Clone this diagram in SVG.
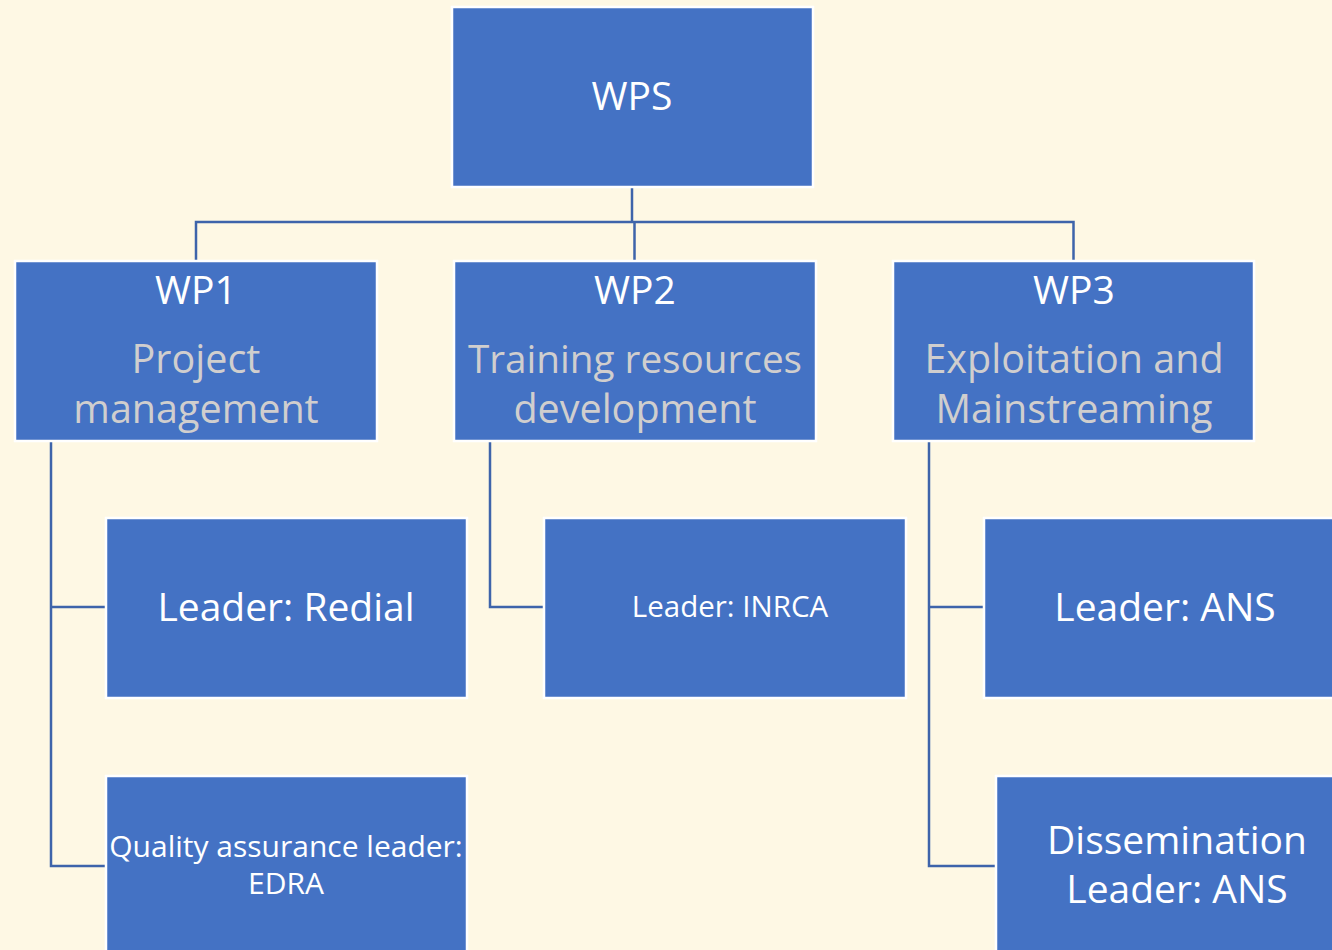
<svg xmlns="http://www.w3.org/2000/svg" width="1332" height="950" viewBox="0 0 1332 950">
<style>
.box{fill:#4472C4;stroke:#FFFFFF;stroke-width:2.5}
.t{font-family:"Open Sans","Noto Sans","Liberation Sans",sans-serif;text-anchor:middle;fill:#FFFFFF}
.g{fill:#D0CECE}
.c{fill:none;stroke:#3E64AA;stroke-width:2.5}
</style>
<rect width="1332" height="950" fill="#FEF8E4"/>
<g id="connectors">
<path class="c" d="M632 188V222"/>
<path class="c" d="M196 260V222H1073.5V260"/>
<path class="c" d="M634.5 222V260"/>
<path class="c" d="M51 442V866H105"/>
<path class="c" d="M51 607H105"/>
<path class="c" d="M490 442V607H544"/>
<path class="c" d="M929 442V866H995"/>
<path class="c" d="M929 607H983"/>
</g>
<g id="wps">
<rect class="box" x="452" y="7" width="361" height="180"/>
<text class="t" x="632" y="110" font-size="39">WPS</text>
</g>
<g id="wp1">
<rect class="box" x="15" y="261" width="362" height="180"/>
<text class="t" x="196" y="304" font-size="39">WP1</text>
<text class="t g" x="196" y="373" font-size="39.5">Project</text>
<text class="t g" x="196" y="423" font-size="39.5">management</text>
</g>
<g id="wp2">
<rect class="box" x="454" y="261" width="362" height="180"/>
<text class="t" x="635" y="304" font-size="39">WP2</text>
<text class="t g" x="635" y="373" font-size="38.7">Training resources</text>
<text class="t g" x="635" y="423" font-size="39.5">development</text>
</g>
<g id="wp3">
<rect class="box" x="893" y="261" width="361" height="180"/>
<text class="t" x="1074" y="304" font-size="39">WP3</text>
<text class="t g" x="1074" y="373" font-size="39.5">Exploitation and</text>
<text class="t g" x="1074" y="423" font-size="39.5">Mainstreaming</text>
</g>
<g id="leader-redial">
<rect class="box" x="106" y="518" width="361" height="180"/>
<text class="t" x="286" y="621" font-size="39">Leader: Redial</text>
</g>
<g id="quality-leader">
<rect class="box" x="106" y="776" width="361" height="190"/>
<text class="t" x="286" y="857" font-size="30">Quality assurance leader:</text>
<text class="t" x="286" y="894" font-size="30">EDRA</text>
</g>
<g id="leader-inrca">
<rect class="box" x="544" y="518" width="362" height="180"/>
<text class="t" x="730" y="617" font-size="29.5">Leader: INRCA</text>
</g>
<g id="leader-ans">
<rect class="box" x="984" y="518" width="362" height="180"/>
<text class="t" x="1165" y="621" font-size="39">Leader: ANS</text>
</g>
<g id="dissemination">
<rect class="box" x="996" y="776" width="362" height="190"/>
<text class="t" x="1177" y="854" font-size="39">Dissemination</text>
<text class="t" x="1177" y="903" font-size="39">Leader: ANS</text>
</g>
</svg>
